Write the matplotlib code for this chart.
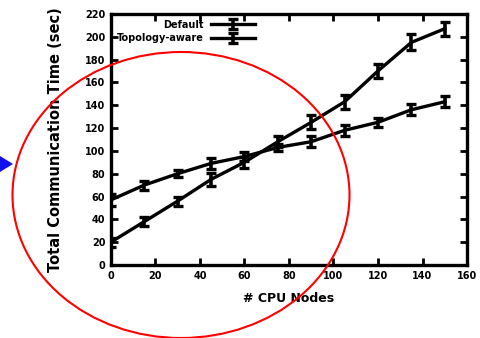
import numpy as np
import matplotlib
matplotlib.use('Agg')
import matplotlib.pyplot as plt
from matplotlib.patches import Ellipse, Polygon

nodes = [0, 15, 30, 45, 60, 75, 90, 105, 120, 135, 150]
topo_time = [20, 38, 56, 75, 90, 108, 125, 143, 170, 195, 207]
topo_err = [4, 4, 4, 6, 5, 5, 6, 6, 6, 7, 6]
default_time = [57, 70, 80, 89, 95, 103, 108, 118, 125, 136, 143]
default_err = [5, 4, 3, 5, 4, 3, 5, 5, 4, 5, 5]

xticks = [0, 20, 40, 60, 80, 100, 120, 140, 160]
yticks = [0, 20, 40, 60, 80, 100, 120, 140, 160, 180, 200, 220]

fig = plt.figure(figsize=(4.8, 3.38), dpi=100)
ax = fig.add_axes([0.231, 0.216, 0.742, 0.743])

ax.errorbar(nodes, default_time, yerr=default_err, color='black', lw=2.4,
            capsize=3.5, capthick=2.4, elinewidth=2.6, label='Default')
ax.errorbar(nodes, topo_time, yerr=topo_err, color='black', lw=2.4,
            capsize=3.5, capthick=2.4, elinewidth=2.6, label='Topology-aware')

ax.set_xlim(0, 160)
ax.set_ylim(0, 220)
ax.set_xticks(xticks)
ax.set_yticks(yticks)
ax.tick_params(direction='in', length=5, width=2, top=True, right=True,
               labelsize=7, pad=4)
for s in ax.spines.values():
    s.set_linewidth(2.4)
for lbl in ax.get_xticklabels() + ax.get_yticklabels():
    lbl.set_fontweight('bold')

ax.set_xlabel('# CPU Nodes', fontsize=9, fontweight='bold', labelpad=8)
ax.set_ylabel('Total Communication Time (sec)', fontsize=10.5,
              fontweight='bold', labelpad=16)

leg = ax.legend(loc='upper left', frameon=False, markerfirst=False,
                handlelength=4.5, borderaxespad=0.2, labelspacing=0.35,
                bbox_to_anchor=(0.0, 1.0),
                prop={'weight': 'bold', 'size': 7})
for t in leg.get_texts():
    t.set_ha('right')

# annotation overlay in pixel coordinates
ov = fig.add_axes([0, 0, 1, 1], facecolor='none')
ov.set_xlim(0, 480)
ov.set_ylim(338, 0)
ov.axis('off')
ov.add_patch(Ellipse((181, 195), 337, 286, fill=False, ec='red', lw=1.5))
ov.add_patch(Polygon([(0, 156), (0, 172), (13, 164)], closed=True,
                     fc='#1010ee', ec='none'))

fig.savefig('out.png', dpi=100)
